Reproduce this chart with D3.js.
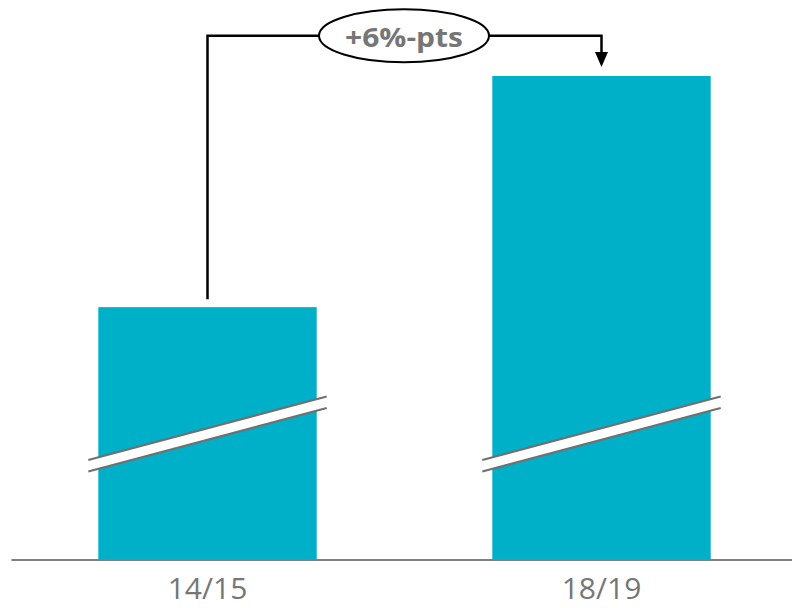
<!DOCTYPE html>
<html>
<head>
<meta charset="utf-8">
<script src="https://cdn.jsdelivr.net/npm/d3@7"></script>
<style>
  html, body { margin: 0; padding: 0; background: #fff; }
  svg { display: block; }
</style>
</head>
<body>
<svg id="chart" width="792" height="608"></svg>
<script>
// ---- data ----
const categories = ["14/15", "18/19"];
const values = [80, 86];            // share in %, axis is broken
const deltaLabel = "+6%-pts";

// ---- layout ----
const W = 792, H = 608;
const baseY = 559.5;
const svg = d3.select("#chart");

const x = d3.scaleBand()
  .domain(categories)
  .range([11, 798])
  .paddingInner(0.4457)
  .paddingOuter(0.2216);

// broken axis: bottom of the visible axis corresponds to ~73.45
const y = d3.scaleLinear()
  .domain([73.45, 86])
  .range([baseY, 76]);

const teal = "#00AFC8";
const grey = "#767676";

// bars
svg.append("g").selectAll("rect")
  .data(categories)
  .join("rect")
  .attr("x", d => x(d))
  .attr("width", x.bandwidth())
  .attr("y", (d, i) => y(values[i]))
  .attr("height", (d, i) => baseY - y(values[i]))
  .attr("fill", teal);

// axis break marks
const ext = 10;           // overhang beyond bar edges
const yL = 460, yR = 396.5, gap = 11.5;
const brk = svg.append("g");
categories.forEach(c => {
  const x0 = x(c) - ext, x1 = x(c) + x.bandwidth() + ext;
  brk.append("path")
    .attr("d", `M${x0},${yL}L${x1},${yR}L${x1},${yR + gap}L${x0},${yL + gap}Z`)
    .attr("fill", "#fff");
  [0, gap].forEach(o => {
    brk.append("line")
      .attr("x1", x0).attr("y1", yL + o)
      .attr("x2", x1).attr("y2", yR + o)
      .attr("stroke", "#707070").attr("stroke-width", 2.2);
  });
});

// x axis
const axis = svg.append("g")
  .attr("transform", `translate(0,${baseY})`)
  .call(d3.axisBottom(x).tickSize(0).tickSizeOuter(0).tickPadding(18));
axis.select(".domain").attr("stroke", "#808080").attr("stroke-width", 2);
axis.selectAll("text")
  .attr("fill", grey)
  .style("font-family", "'Open Sans', sans-serif")
  .style("font-size", "30px");

// annotation connector
const cx1 = x(categories[0]) + x.bandwidth() / 2;
const cx2 = x(categories[1]) + x.bandwidth() / 2;
const topY = 35.7;
const ex = 404, erx = 85, ery = 26.5;
const ann = svg.append("g");
ann.append("path")
  .attr("d", `M${cx1},${y(values[0]) - 8}V${topY}H${ex}`)
  .attr("fill", "none").attr("stroke", "#000").attr("stroke-width", 2.5);
ann.append("path")
  .attr("d", `M${ex},${topY}H${cx2}V${y(values[1]) - 22}`)
  .attr("fill", "none").attr("stroke", "#000").attr("stroke-width", 2.5);
const tipY = y(values[1]) - 9;
ann.append("path")
  .attr("d", `M${cx2 - 6.5},${tipY - 15}L${cx2 + 6.5},${tipY - 15}L${cx2},${tipY}Z`)
  .attr("fill", "#000");
ann.append("ellipse")
  .attr("cx", ex).attr("cy", topY)
  .attr("rx", erx).attr("ry", ery)
  .attr("fill", "#fff").attr("stroke", "#000").attr("stroke-width", 2);
ann.append("text")
  .attr("x", ex).attr("y", 46.7)
  .attr("text-anchor", "middle")
  .attr("fill", grey)
  .attr("textLength", 118)
  .attr("lengthAdjust", "spacingAndGlyphs")
  .style("font-family", "'Open Sans', sans-serif")
  .style("font-weight", "bold")
  .style("font-size", "26px")
  .text(deltaLabel);
</script>
</body>
</html>
